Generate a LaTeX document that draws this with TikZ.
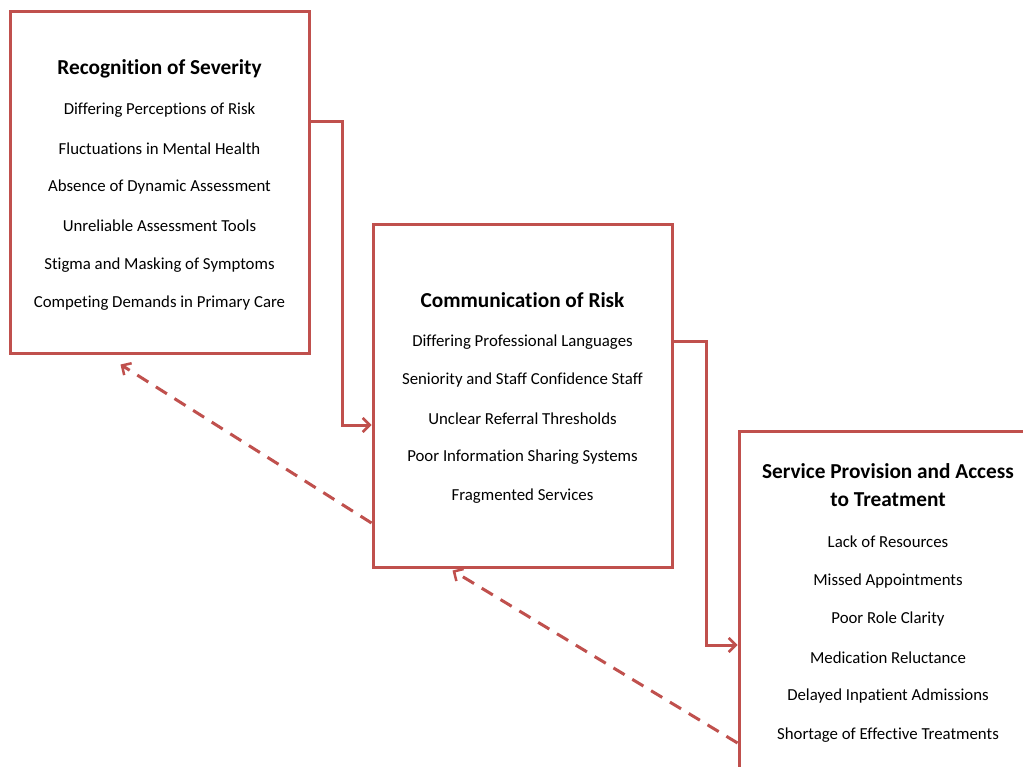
\documentclass[tikz,border=0pt]{standalone}
\usepackage{fontspec}
\setmainfont{Carlito}[Ligatures={NoCommon}]
\usetikzlibrary{arrows.meta}
\definecolor{boxred}{RGB}{192,80,77}
\begin{document}
\begin{tikzpicture}[x=1pt,y=-1pt,
  box/.style={draw=boxred,line width=3pt,fill=white,minimum width=299pt,minimum height=342pt,inner sep=0pt},
  ttl/.style={font=\fontsize{21.3}{25}\selectfont\bfseries,align=center,inner sep=0pt},
  itm/.style={font=\fontsize{16.8}{20}\selectfont,inner sep=0pt},
  conn/.style={draw=boxred,line width=3pt,-{Straight Barb[length=7pt,width=14pt,line width=2.5pt]}},
  fb/.style={draw=boxred,line width=3pt,dash pattern=on 13pt off 9pt,-{Straight Barb[length=7pt,width=14pt,line width=2.5pt]}}
]
\useasboundingbox (0,0) rectangle (1023,767);
\clip (0,0) rectangle (1023,767);
\fill[white] (0,0) rectangle (1023,767);

\node[box] (b1) at (159.5,183) {};
\node[box] (b2) at (522.5,396) {};
\node[box] (b3) at (888.5,602) {};

% box 1 text
\node[ttl] (t1) at (159.5,69) {Recognition of Severity};
\node[itm] (i11) at (159.5,110) {Differing Perceptions of Risk};
\node[itm] (i12) at (159.5,149) {Fluctuations in Mental Health};
\node[itm] (i13) at (159.5,187) {Absence of Dynamic Assessment};
\node[itm] (i14) at (159.5,226) {Unreliable Assessment Tools};
\node[itm] (i15) at (159.5,265) {Stigma and Masking of Symptoms};
\node[itm] (i16) at (159.5,303) {Competing Demands in Primary Care};

% box 2 text
\node[ttl] (t2) at (522.5,300) {Communication of Risk};
\node[itm] (i21) at (522.5,342) {Differing Professional Languages};
\node[itm] (i22) at (522.5,380) {Seniority and Staff Confidence Staff};
\node[itm] (i23) at (522.5,419) {Unclear Referral Thresholds};
\node[itm] (i24) at (522.5,457) {Poor Information Sharing Systems};
\node[itm] (i25) at (522.5,496) {Fragmented Services};

% box 3 text
\node[ttl] (t3a) at (888,471) {Service Provision and Access};
\node[ttl] (t3b) at (888,500) {to Treatment};
\node[itm] (i31) at (888,542) {Lack of Resources};
\node[itm] (i32) at (888,581) {Missed Appointments};
\node[itm] (i33) at (888,619) {Poor Role Clarity};
\node[itm] (i34) at (888,658) {Medication Reluctance};
\node[itm] (i35) at (888,696) {Delayed Inpatient Admissions};
\node[itm] (i36) at (888,735) {Shortage of Effective Treatments};

% connectors
\draw[conn] ([yshift=61pt]b1.east) -- ++(32,0) |- ([yshift=-29pt]b2.west);
\draw[conn] ([yshift=54pt]b2.east) -- ++(33,0) |- ([yshift=-43pt]b3.west);
\draw[fb] ([yshift=-127pt]b2.west) -- ([xshift=-39pt,yshift=-9pt]b1.south);
\draw[fb] ([yshift=-141pt]b3.west) -- ([xshift=-70pt,yshift=-2pt]b2.south);
\end{tikzpicture}
\end{document}
